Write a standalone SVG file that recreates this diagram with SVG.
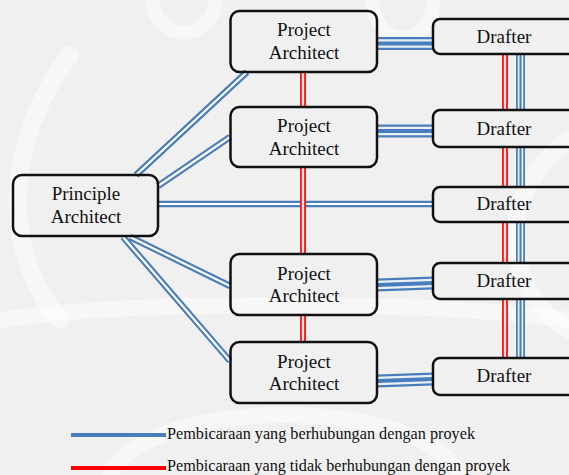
<svg xmlns="http://www.w3.org/2000/svg" width="569" height="475" viewBox="0 0 569 475">
  <style>
    .box { fill: none; stroke: #111; stroke-width: 2.5; }
    .lbl { font-family: "Liberation Serif", "Times New Roman", "DejaVu Serif", serif; font-size: 19px; fill: #111; text-anchor: middle; }
    .leg { font-family: "Liberation Serif", "Times New Roman", "DejaVu Serif", serif; font-size: 17px; fill: #111; }
    .b-out { stroke: #4a7dbb; stroke-width: 6.5; fill: none; }
    .b-in { stroke: #ffffff; stroke-width: 2.2; fill: none; }
    .t-out { stroke: #4a7dbb; stroke-width: 13; fill: none; }
    .t-mid { stroke: #e9eff7; stroke-width: 8.5; fill: none; }
    .t-core { stroke: #4a7dbb; stroke-width: 4; fill: none; }
    .v-out { stroke: #4a7dbb; stroke-width: 9; fill: none; }
    .v-mid { stroke: #e9eff7; stroke-width: 5.5; fill: none; }
    .v-core { stroke: #4a7dbb; stroke-width: 2; fill: none; }
    .r-out { stroke: #ff1a1a; stroke-width: 6; fill: none; }
    .r-in { stroke: #ffe4e4; stroke-width: 2.2; fill: none; }
    .wm { stroke: #ffffff; fill: none; stroke-linecap: round; opacity: 0.45; }
  </style>

  <!-- background with faint watermark swirls -->
  <rect x="0" y="0" width="569" height="475" fill="#f0f0f0"/>
  <g id="watermark">
    <path class="wm" stroke-width="14" d="M152,-5 C152,45 216,45 216,-5"/>
    <path class="wm" stroke-width="14" d="M372,-5 C372,52 434,52 434,-5"/>
    <path class="wm" stroke-width="18" d="M70,55 C5,140 0,250 60,320"/>
    <path class="wm" stroke-width="16" d="M0,320 C140,300 420,300 569,320"/>
    <path class="wm" stroke-width="16" d="M110,475 C150,395 420,395 460,475"/>
    <path class="wm" stroke-width="18" d="M569,140 C495,190 500,290 569,330"/>
  </g>

  <!-- connectors -->
  <g id="connectors">
    <!-- principle architect to project architects and drafter -->
    <path class="b-out" d="M136,175 L247,72 M158,186 L230,137 M130,237 L230,286 M123,237 L230,361"/>
    <path class="b-in" d="M136,175 L247,72 M158,186 L230,137 M130,237 L230,286 M123,237 L230,361"/>
    <path class="b-out" stroke-width="5" d="M159,204 L433,204"/>
    <path class="b-in" stroke-width="1.6" d="M159,204 L433,204"/>

    <!-- project architect to drafter (triple line) -->
    <path class="t-out" d="M377,43.5 L433,43.5 M377,131 L433,131 M377,285 L433,283 M377,381 L433,379"/>
    <path class="t-mid" d="M377,43.5 L433,43.5 M377,131 L433,131 M377,285 L433,283 M377,381 L433,379"/>
    <path class="t-core" d="M377,43.5 L433,43.5 M377,131 L433,131 M377,285 L433,283 M377,381 L433,379"/>

    <!-- red links between project architects -->
    <path class="r-out" d="M303,72 V107 M303,167 V254 M303,315 V342"/>
    <path class="r-in" d="M303,72 V107 M303,167 V254 M303,315 V342"/>

    <!-- links between drafters -->
    <path class="r-out" d="M505,54 V110 M505,147 V187 M505,222 V263 M505,299 V358"/>
    <path class="r-in" d="M505,54 V110 M505,147 V187 M505,222 V263 M505,299 V358"/>
    <path class="v-out" d="M520.5,54 V110 M520.5,147 V187 M520.5,222 V263 M520.5,299 V358"/>
    <path class="v-mid" d="M520.5,54 V110 M520.5,147 V187 M520.5,222 V263 M520.5,299 V358"/>
    <path class="v-core" d="M520.5,54 V110 M520.5,147 V187 M520.5,222 V263 M520.5,299 V358"/>
  </g>

  <!-- nodes -->
  <g id="principle">
    <rect class="box" x="13" y="175" width="145" height="61" rx="9"/>
    <text class="lbl" x="86" y="200">Principle</text>
    <text class="lbl" x="86" y="223">Architect</text>
  </g>
  <g id="pa1">
    <rect class="box" x="230.5" y="11" width="146.5" height="61" rx="9"/>
    <text class="lbl" x="304" y="36">Project</text>
    <text class="lbl" x="304" y="59">Architect</text>
  </g>
  <g id="pa2">
    <rect class="box" x="230.5" y="107" width="146.5" height="60" rx="9"/>
    <text class="lbl" x="304" y="132">Project</text>
    <text class="lbl" x="304" y="155">Architect</text>
  </g>
  <g id="pa3">
    <rect class="box" x="230.5" y="254" width="146.5" height="61" rx="9"/>
    <text class="lbl" x="304" y="280">Project</text>
    <text class="lbl" x="304" y="302">Architect</text>
  </g>
  <g id="pa4">
    <rect class="box" x="230.5" y="342" width="146.5" height="61" rx="9"/>
    <text class="lbl" x="304" y="368">Project</text>
    <text class="lbl" x="304" y="390">Architect</text>
  </g>
  <g id="d1">
    <rect class="box" x="433" y="19" width="170" height="35" rx="7"/>
    <text class="lbl" x="504" y="43">Drafter</text>
  </g>
  <g id="d2">
    <rect class="box" x="433" y="110" width="170" height="37" rx="7"/>
    <text class="lbl" x="504" y="135">Drafter</text>
  </g>
  <g id="d3">
    <rect class="box" x="433" y="187" width="170" height="35" rx="7"/>
    <text class="lbl" x="504" y="210">Drafter</text>
  </g>
  <g id="d4">
    <rect class="box" x="433" y="263" width="170" height="36" rx="7"/>
    <text class="lbl" x="504" y="287">Drafter</text>
  </g>
  <g id="d5">
    <rect class="box" x="433" y="358" width="170" height="37" rx="7"/>
    <text class="lbl" x="504" y="382">Drafter</text>
  </g>

  <!-- legend -->
  <g id="legend">
    <line x1="71" y1="435" x2="166" y2="435" stroke="#4a7dbb" stroke-width="4"/>
    <text class="leg" x="167" y="439" textLength="308" lengthAdjust="spacingAndGlyphs">Pembicaraan yang berhubungan dengan proyek</text>
    <line x1="71" y1="468" x2="166" y2="468" stroke="#ff0000" stroke-width="4"/>
    <text class="leg" x="167" y="471" font-size="16.5" textLength="343" lengthAdjust="spacingAndGlyphs">Pembicaraan yang tidak berhubungan dengan proyek</text>
  </g>
</svg>
